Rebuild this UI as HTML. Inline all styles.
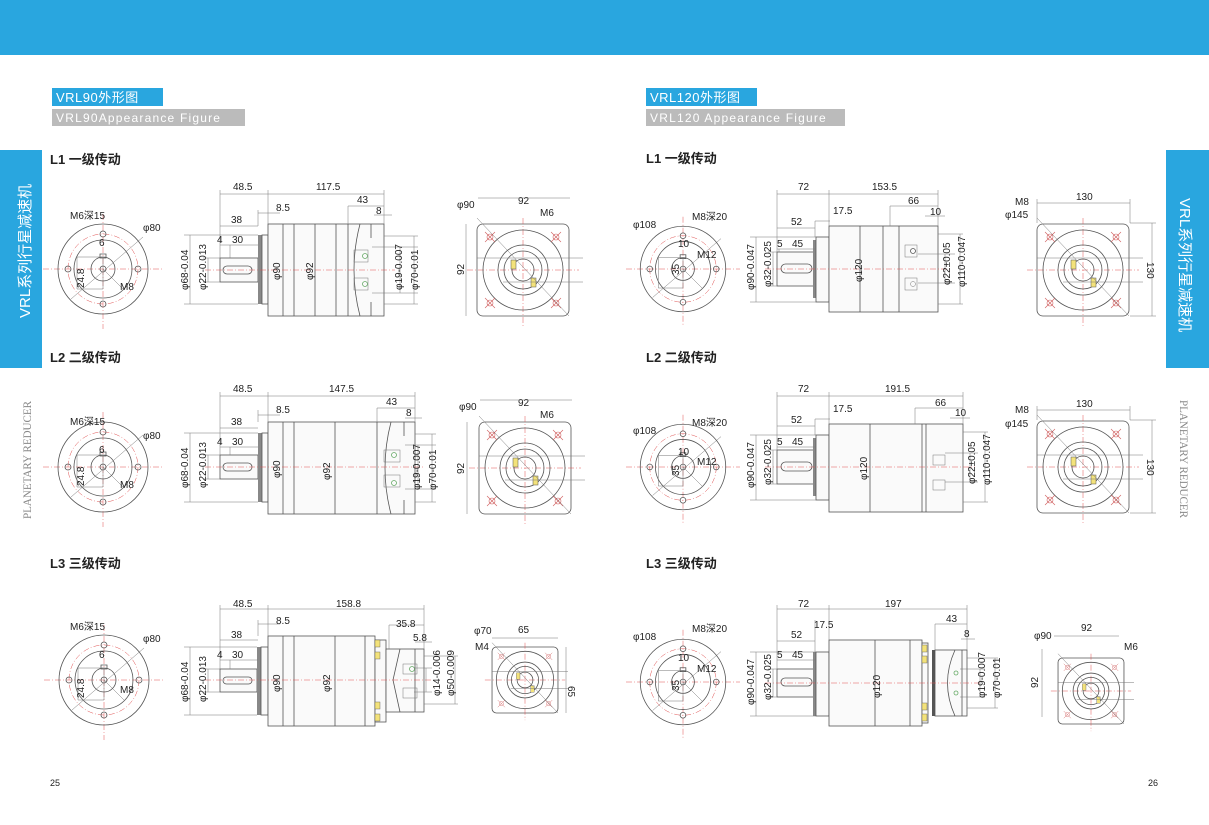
<!DOCTYPE html>
<html><head><meta charset="utf-8"><style>
html,body{margin:0;padding:0;background:#fff}
svg{display:block}
.t{font-family:"Liberation Sans Narrow","Liberation Sans",sans-serif;font-size:10px;fill:#222}
.h{font-family:"Liberation Sans","Noto Sans CJK SC",sans-serif;font-size:13px;fill:#222;font-weight:bold}
.l{fill:none;stroke:#555;stroke-width:0.8}
.d{fill:none;stroke:#777;stroke-width:0.5}
.r{fill:none;stroke:#e05050;stroke-width:0.5;stroke-dasharray:6 2 1 2}
.b{fill:#fafafa;stroke:#555;stroke-width:0.8}
</style></head><body>
<svg width="1209" height="825" viewBox="0 0 1209 825" xmlns="http://www.w3.org/2000/svg">
<defs>
<symbol id="fv" viewBox="-60 -60 120 120" overflow="visible">
 <line class="r" x1="-60" y1="0" x2="60" y2="0" vector-effect="non-scaling-stroke"/>
 <line class="r" x1="0" y1="-55" x2="0" y2="60" vector-effect="non-scaling-stroke"/>
 <circle class="l" r="45" vector-effect="non-scaling-stroke"/>
 <circle class="r" r="35" vector-effect="non-scaling-stroke"/>
 <circle class="l" r="29" vector-effect="non-scaling-stroke"/>
 <circle class="l" r="12" vector-effect="non-scaling-stroke"/>
 <circle class="l" r="3" vector-effect="non-scaling-stroke"/>
 <rect class="l" x="-3" y="-15" width="6" height="4" vector-effect="non-scaling-stroke"/>
 <rect class="d" x="-26" y="-12" width="26" height="32" vector-effect="non-scaling-stroke"/>
 <circle class="l" cx="0" cy="-35" r="3" vector-effect="non-scaling-stroke"/>
 <circle class="l" cx="0" cy="35" r="3" vector-effect="non-scaling-stroke"/>
 <circle class="l" cx="-35" cy="0" r="3" vector-effect="non-scaling-stroke"/>
 <circle class="l" cx="35" cy="0" r="3" vector-effect="non-scaling-stroke"/>
 <line class="d" x1="-32" y1="30" x2="40" y2="-32" vector-effect="non-scaling-stroke"/>
 <line class="d" x1="0" y1="0" x2="20" y2="20" vector-effect="non-scaling-stroke"/>
</symbol>
<symbol id="ev" viewBox="-60 -60 120 120" overflow="visible">
 <rect class="l" x="-46" y="-46" width="92" height="92" rx="6" vector-effect="non-scaling-stroke"/>
 <line class="r" x1="-56" y1="0" x2="56" y2="0" vector-effect="non-scaling-stroke"/>
 <line class="r" x1="0" y1="-52" x2="0" y2="56" vector-effect="non-scaling-stroke"/>
 <circle class="l" r="40" vector-effect="non-scaling-stroke"/>
 <circle class="l" r="25" vector-effect="non-scaling-stroke"/>
 <circle class="l" r="19" vector-effect="non-scaling-stroke"/>
 <circle class="l" r="11" vector-effect="non-scaling-stroke"/>
 <rect x="-12" y="-10" width="5" height="9" fill="#f3e27a" stroke="#555" stroke-width="0.5"/>
 <rect x="8" y="8" width="5" height="9" fill="#f3e27a" stroke="#555" stroke-width="0.5"/>
 <g stroke="#d06060" stroke-width="0.6" fill="none">
  <circle cx="-33" cy="-33" r="3"/><circle cx="33" cy="-33" r="3"/><circle cx="-33" cy="33" r="3"/><circle cx="33" cy="33" r="3"/>
  <path d="M-38-38l10 10M-28-38l-10 10M28-38l10 10M38-38l-10 10M-38 28l10 10M-28 28l-10 10M28 28l10 10M38 28l-10 10"/>
 </g>
 <line class="d" x1="-46" y1="-52" x2="46" y2="46" vector-effect="non-scaling-stroke"/>
 <line class="d" x1="-46" y1="-12" x2="60" y2="-12" vector-effect="non-scaling-stroke"/>
 <line class="d" x1="-20" y1="12" x2="60" y2="12" vector-effect="non-scaling-stroke"/>
</symbol>
</defs>

<rect x="0" y="0" width="1209" height="55" fill="#29a6df"/>
<rect x="0" y="150" width="42" height="218" fill="#29a6df"/>
<text transform="translate(30,318) rotate(-90)" font-family="Liberation Sans,Noto Sans CJK SC,sans-serif" font-size="15" fill="#fff">VRL系列行星减速机</text>
<rect x="1166" y="150" width="43" height="218" fill="#29a6df"/>
<text transform="translate(1180,198) rotate(90)" font-family="Liberation Sans,Noto Sans CJK SC,sans-serif" font-size="15" fill="#fff">VRL系列行星减速机</text>
<text transform="translate(31,519) rotate(-90)" font-family="Liberation Serif,serif" font-size="12" fill="#888" textLength="118" lengthAdjust="spacingAndGlyphs">PLANETARY  REDUCER</text>
<text transform="translate(1180,400) rotate(90)" font-family="Liberation Serif,serif" font-size="12" fill="#888" textLength="118" lengthAdjust="spacingAndGlyphs">PLANETARY  REDUCER</text>

<rect x="52" y="88" width="111" height="18" fill="#29a6df"/>
<text x="56" y="102" font-family="Liberation Sans,Noto Sans CJK SC,sans-serif" font-size="13" fill="#fff" letter-spacing="0.5">VRL90外形图</text>
<rect x="52" y="109" width="193" height="17" fill="#bbb"/>
<text x="56" y="122" font-family="Liberation Sans,sans-serif" font-size="12" fill="#fff" letter-spacing="1.2">VRL90Appearance Figure</text>
<rect x="646" y="88" width="111" height="18" fill="#29a6df"/>
<text x="650" y="102" font-family="Liberation Sans,Noto Sans CJK SC,sans-serif" font-size="13" fill="#fff" letter-spacing="0.5">VRL120外形图</text>
<rect x="646" y="109" width="199" height="17" fill="#bbb"/>
<text x="650" y="122" font-family="Liberation Sans,sans-serif" font-size="12" fill="#fff" letter-spacing="1.2">VRL120 Appearance Figure</text>

<text class="h" x="50" y="164">L1 一级传动</text>
<text class="h" x="50" y="362">L2 二级传动</text>
<text class="h" x="50" y="568">L3 三级传动</text>
<text class="h" x="646" y="163">L1 一级传动</text>
<text class="h" x="646" y="362">L2 二级传动</text>
<text class="h" x="646" y="568">L3 三级传动</text>
<text x="50" y="786" font-family="Liberation Sans,sans-serif" font-size="9" fill="#222">25</text>
<text x="1148" y="786" font-family="Liberation Sans,sans-serif" font-size="9" fill="#222">26</text>

<use href="#fv" x="43" y="209" width="120" height="120"/>
<use href="#fv" x="43" y="407" width="120" height="120"/>
<use href="#fv" x="44" y="620" width="120" height="120"/>
<use href="#fv" x="626" y="212" width="114" height="114"/>
<use href="#fv" x="626" y="410" width="114" height="114"/>
<use href="#fv" x="626" y="625" width="114" height="114"/>

<g class="t">
<text x="70" y="219">M6深15</text><text x="143" y="231">φ80</text><text x="99" y="246">6</text><text x="120" y="290">M8</text>
<text transform="translate(84,288) rotate(-90)">24.8</text>
<text x="70" y="425">M6深15</text><text x="143" y="439">φ80</text><text x="99" y="453">6</text><text x="120" y="488">M8</text>
<text transform="translate(84,486) rotate(-90)">24.8</text>
<text x="70" y="630">M6深15</text><text x="143" y="642">φ80</text><text x="99" y="658">6</text><text x="120" y="693">M8</text>
<text transform="translate(84,698) rotate(-90)">24.8</text>
<text x="633" y="228">φ108</text><text x="692" y="220">M8深20</text><text x="678" y="247">10</text><text x="697" y="258">M12</text>
<text transform="translate(679,275) rotate(-90)">35</text>
<text x="633" y="434">φ108</text><text x="692" y="426">M8深20</text><text x="678" y="455">10</text><text x="697" y="465">M12</text>
<text transform="translate(679,476) rotate(-90)">35</text>
<text x="633" y="640">φ108</text><text x="692" y="632">M8深20</text><text x="678" y="661">10</text><text x="697" y="672">M12</text>
<text transform="translate(679,691) rotate(-90)">35</text>
</g>

<use href="#ev" x="463" y="210" width="120" height="120"/>
<use href="#ev" x="465" y="408" width="120" height="120"/>
<use href="#ev" x="482" y="637" width="86" height="86"/>
<use href="#ev" x="1023" y="210" width="120" height="120"/>
<use href="#ev" x="1023" y="407" width="120" height="120"/>
<use href="#ev" x="1048" y="648" width="86" height="86"/>
<g class="t">
<text x="457" y="208">φ90</text><text x="518" y="204">92</text><text x="540" y="216">M6</text>
<text transform="translate(464,275) rotate(-90)">92</text>
<line class="d" x1="478" y1="198" x2="570" y2="198"/><line class="d" x1="466" y1="224" x2="466" y2="316"/>
<text x="459" y="410">φ90</text><text x="518" y="406">92</text><text x="540" y="418">M6</text>
<text transform="translate(464,474) rotate(-90)">92</text>
<line class="d" x1="480" y1="400" x2="572" y2="400"/><line class="d" x1="467" y1="422" x2="467" y2="514"/>
<text x="474" y="634">φ70</text><text x="518" y="633">65</text><text x="475" y="650">M4</text>
<text transform="translate(568,686) rotate(90)">65</text>
<line class="d" x1="492" y1="638" x2="558" y2="638"/><line class="d" x1="566" y1="647" x2="566" y2="713"/>
<text x="1015" y="205">M8</text><text x="1005" y="218">φ145</text><text x="1076" y="200">130</text>
<text transform="translate(1147,262) rotate(90)">130</text>
<line class="d" x1="1037" y1="203" x2="1130" y2="203"/><line class="d" x1="1037" y1="199" x2="1037" y2="223"/><line class="d" x1="1130" y1="199" x2="1130" y2="223"/>
<line class="d" x1="1152" y1="223" x2="1152" y2="316"/><line class="d" x1="1130" y1="223" x2="1156" y2="223"/><line class="d" x1="1130" y1="316" x2="1156" y2="316"/>
<text x="1015" y="413">M8</text><text x="1005" y="427">φ145</text><text x="1076" y="407">130</text>
<text transform="translate(1147,459) rotate(90)">130</text>
<line class="d" x1="1037" y1="410" x2="1130" y2="410"/><line class="d" x1="1037" y1="406" x2="1037" y2="420"/><line class="d" x1="1130" y1="406" x2="1130" y2="420"/>
<line class="d" x1="1152" y1="420" x2="1152" y2="513"/><line class="d" x1="1130" y1="420" x2="1156" y2="420"/><line class="d" x1="1130" y1="513" x2="1156" y2="513"/>
<text x="1034" y="639">φ90</text><text x="1081" y="631">92</text><text x="1124" y="650">M6</text>
<text transform="translate(1038,688) rotate(-90)">92</text>
<line class="d" x1="1054" y1="636" x2="1119" y2="636"/><line class="d" x1="1042" y1="649" x2="1042" y2="717"/>
</g>

<g>
<rect class="b" x="220" y="258" width="38" height="24"/>
<rect class="l" x="223" y="266" width="29" height="8" rx="4"/>
<rect x="258" y="235" width="4" height="69" fill="#888"/>
<rect class="b" x="262" y="235" width="6" height="69"/>
<rect class="b" x="268" y="224" width="116" height="92"/>
<line class="l" x1="283" y1="224" x2="283" y2="316"/><line class="l" x1="294" y1="224" x2="294" y2="316"/>
<line class="l" x1="315" y1="224" x2="315" y2="316"/><line class="l" x1="336" y1="224" x2="336" y2="316"/><line class="l" x1="348" y1="224" x2="348" y2="316"/>
<path class="l" d="M360 224Q348 270 360 316M371 224L371 238M371 302L371 316"/>
<rect class="d" x="354" y="250" width="14" height="12"/><rect class="d" x="354" y="278" width="14" height="12"/>
<circle cx="365" cy="256" r="2.5" fill="none" stroke="#6a6" stroke-width="0.8"/><circle cx="365" cy="284" r="2.5" fill="none" stroke="#6a6" stroke-width="0.8"/>
<line class="r" x1="205" y1="270" x2="395" y2="270"/>
<path class="d" d="M220 194H384M220 190V258M268 190V224M384 190V224M348 206H384M348 206V224M374 215H392M258 213H280M258 226V210M220 226H258M220 245H258M230 245V258M190 235V304M184 235H258M184 304H258M208 258V282M203 258H220M203 282H220M372 247H418M372 293H418M400 247V293M414 236V304M384 236H418M384 304H418"/>
<g class="t"><text x="233" y="190">48.5</text><text x="316" y="190">117.5</text><text x="357" y="203">43</text><text x="376" y="214">8</text><text x="276" y="211">8.5</text><text x="231" y="223">38</text><text x="217" y="243">4</text><text x="232" y="243">30</text>
<text transform="translate(188,290) rotate(-90)">φ68-0.04</text><text transform="translate(206,290) rotate(-90)">φ22-0.013</text>
<text transform="translate(280,280) rotate(-90)">φ90</text><text transform="translate(313,280) rotate(-90)">φ92</text>
<text transform="translate(402,290) rotate(-90)">φ19-0.007</text><text transform="translate(418,290) rotate(-90)">φ70-0.01</text></g>
</g>

<g>
<rect class="b" x="220" y="455" width="38" height="24"/>
<rect class="l" x="223" y="463" width="29" height="8" rx="4"/>
<rect x="258" y="433" width="4" height="69" fill="#888"/>
<rect class="b" x="262" y="433" width="6" height="69"/>
<rect class="b" x="268" y="422" width="147" height="92"/>
<line class="l" x1="283" y1="422" x2="283" y2="514"/><line class="l" x1="294" y1="422" x2="294" y2="514"/>
<line class="l" x1="335" y1="422" x2="335" y2="514"/><line class="l" x1="377" y1="422" x2="377" y2="514"/>
<path class="l" d="M391 422Q379 468 391 514M404 422V436M404 500V514"/>
<rect class="d" x="384" y="450" width="16" height="12"/><rect class="d" x="384" y="475" width="16" height="12"/>
<circle cx="394" cy="455" r="2.5" fill="none" stroke="#6a6" stroke-width="0.8"/><circle cx="394" cy="483" r="2.5" fill="none" stroke="#6a6" stroke-width="0.8"/>
<line class="r" x1="205" y1="467" x2="425" y2="467"/>
<path class="d" d="M220 396H415M220 392V455M268 392V422M415 392V422M377 408H415M377 408V422M405 418H422M258 415H280M258 422V410M220 428H258M220 447H258M230 447V455M190 433V502M184 433H258M184 502H258M208 455V479M203 455H220M203 479H220M405 445H436M405 489H436M418 445V489M432 434V502M415 434H436M415 502H436"/>
<g class="t"><text x="233" y="392">48.5</text><text x="329" y="392">147.5</text><text x="386" y="405">43</text><text x="406" y="416">8</text><text x="276" y="413">8.5</text><text x="231" y="425">38</text><text x="217" y="445">4</text><text x="232" y="445">30</text>
<text transform="translate(188,488) rotate(-90)">φ68-0.04</text><text transform="translate(206,488) rotate(-90)">φ22-0.013</text>
<text transform="translate(280,478) rotate(-90)">φ90</text><text transform="translate(330,480) rotate(-90)">φ92</text>
<text transform="translate(420,490) rotate(-90)">φ19-0.007</text><text transform="translate(436,490) rotate(-90)">φ70-0.01</text></g>
</g>

<g>
<rect class="b" x="220" y="669" width="37" height="23"/>
<rect class="l" x="223" y="677" width="29" height="7" rx="3.5"/>
<rect x="257" y="647" width="4" height="68" fill="#888"/>
<rect class="b" x="261" y="647" width="7" height="68"/>
<rect class="b" x="268" y="636" width="107" height="90"/>
<line class="l" x1="283" y1="636" x2="283" y2="726"/><line class="l" x1="294" y1="636" x2="294" y2="726"/><line class="l" x1="335" y1="636" x2="335" y2="726"/><line class="l" x1="365" y1="636" x2="365" y2="726"/>
<rect class="b" x="375" y="640" width="11" height="82"/>
<rect x="375" y="640" width="5" height="7" fill="#f3e27a" stroke="#555" stroke-width="0.4"/><rect x="375" y="652" width="5" height="7" fill="#f3e27a" stroke="#555" stroke-width="0.4"/>
<rect x="375" y="702" width="5" height="7" fill="#f3e27a" stroke="#555" stroke-width="0.4"/><rect x="375" y="714" width="5" height="7" fill="#f3e27a" stroke="#555" stroke-width="0.4"/>
<rect class="b" x="386" y="649" width="38" height="63"/>
<path class="l" d="M400 649L393 680L400 712M415 649V712"/>
<rect class="d" x="403" y="664" width="14" height="10"/><rect class="d" x="403" y="688" width="14" height="10"/>
<circle cx="412" cy="669" r="2.5" fill="none" stroke="#6a6" stroke-width="0.8"/>
<line class="r" x1="205" y1="680" x2="432" y2="680"/>
<path class="d" d="M220 609H424M220 605V669M268 605V636M424 605V649M389 625H424M389 625V649M415 642H432M258 624H280M258 636V620M220 640H258M220 660H258M230 660V669M190 647V715M184 647H257M184 715H257M208 669V692M203 669H220M203 692H220M414 668H432M414 692H432M426 668V692M455 656V704M424 656H458M424 704H458"/>
<g class="t"><text x="233" y="607">48.5</text><text x="336" y="607">158.8</text><text x="396" y="627">35.8</text><text x="413" y="641">5.8</text><text x="276" y="624">8.5</text><text x="231" y="638">38</text><text x="217" y="658">4</text><text x="232" y="658">30</text>
<text transform="translate(188,702) rotate(-90)">φ68-0.04</text><text transform="translate(206,702) rotate(-90)">φ22-0.013</text>
<text transform="translate(280,692) rotate(-90)">φ90</text><text transform="translate(330,692) rotate(-90)">φ92</text>
<text transform="translate(440,696) rotate(-90)">φ14-0.006</text><text transform="translate(454,696) rotate(-90)">φ50-0.009</text></g>
</g>

<g>
<rect class="b" x="777" y="252" width="38" height="34"/>
<rect class="l" x="781" y="264" width="31" height="9" rx="4.5"/>
<rect x="813" y="240" width="3" height="58" fill="#888"/>
<rect class="b" x="816" y="237" width="13" height="65"/>
<rect class="b" x="829" y="226" width="109" height="86"/>
<line class="l" x1="860" y1="226" x2="860" y2="312"/><line class="l" x1="883" y1="226" x2="883" y2="312"/><line class="l" x1="899" y1="226" x2="899" y2="312"/>
<rect class="d" x="905" y="245" width="12" height="12"/><rect class="d" x="905" y="278" width="12" height="12"/>
<circle cx="913" cy="251" r="2.5" class="l"/><circle cx="913" cy="284" r="2.5" class="d"/>
<line class="r" x1="765" y1="269" x2="950" y2="269"/>
<path class="d" d="M777 194H938M777 190V252M829 190V226M938 190V226M890 206H938M890 206V226M925 216H945M815 221H830M815 221V237M777 228H815M777 249H815M779 249V252M756 237V302M750 237H816M750 302H816M773 252V286M768 252H777M768 286H777M918 254H955M918 283H955M945 254V283M960 234V304M938 234H963M938 304H963"/>
<g class="t"><text x="798" y="190">72</text><text x="872" y="190">153.5</text><text x="908" y="204">66</text><text x="930" y="215">10</text><text x="833" y="214">17.5</text><text x="791" y="225">52</text><text x="777" y="247">5</text><text x="792" y="247">45</text>
<text transform="translate(754,290) rotate(-90)">φ90-0.047</text><text transform="translate(771,287) rotate(-90)">φ32-0.025</text>
<text transform="translate(862,282) rotate(-90)">φ120</text>
<text transform="translate(950,285) rotate(-90)">φ22±0.05</text><text transform="translate(965,287) rotate(-90)">φ110-0.047</text></g>
</g>

<g>
<rect class="b" x="777" y="450" width="38" height="34"/>
<rect class="l" x="781" y="462" width="31" height="9" rx="4.5"/>
<rect x="813" y="438" width="3" height="58" fill="#888"/>
<rect class="b" x="816" y="435" width="13" height="65"/>
<rect class="b" x="829" y="424" width="134" height="88"/>
<line class="l" x1="870" y1="424" x2="870" y2="512"/><line class="l" x1="922" y1="424" x2="922" y2="512"/><line class="l" x1="926" y1="424" x2="926" y2="512"/>
<rect class="d" x="933" y="455" width="12" height="10"/><rect class="d" x="933" y="480" width="12" height="10"/>
<line class="r" x1="765" y1="467" x2="975" y2="467"/>
<path class="d" d="M777 396H963M777 392V450M829 392V424M963 392V424M915 408H963M915 408V424M950 418H970M815 419H830M815 419V435M777 426H815M777 447H815M756 435V500M750 435H816M750 500H816M773 450V484M768 450H777M768 484H777M945 453H978M945 482H978M970 453V482M985 432V502M963 432H988M963 502H988"/>
<g class="t"><text x="798" y="392">72</text><text x="885" y="392">191.5</text><text x="935" y="406">66</text><text x="955" y="416">10</text><text x="833" y="412">17.5</text><text x="791" y="423">52</text><text x="777" y="445">5</text><text x="792" y="445">45</text>
<text transform="translate(754,488) rotate(-90)">φ90-0.047</text><text transform="translate(771,485) rotate(-90)">φ32-0.025</text>
<text transform="translate(867,480) rotate(-90)">φ120</text>
<text transform="translate(975,484) rotate(-90)">φ22±0.05</text><text transform="translate(990,485) rotate(-90)">φ110-0.047</text></g>
</g>

<g>
<rect class="b" x="777" y="669" width="38" height="28"/>
<rect class="l" x="781" y="678" width="31" height="8" rx="4"/>
<rect x="813" y="652" width="3" height="64" fill="#888"/>
<rect class="b" x="816" y="652" width="13" height="64"/>
<rect class="b" x="829" y="640" width="93" height="86"/>
<line class="l" x1="875" y1="640" x2="875" y2="726"/><line class="l" x1="910" y1="640" x2="910" y2="726"/>
<rect class="b" x="922" y="643" width="6" height="80"/>
<rect x="922" y="645" width="5" height="7" fill="#f3e27a" stroke="#555" stroke-width="0.4"/><rect x="922" y="656" width="5" height="7" fill="#f3e27a" stroke="#555" stroke-width="0.4"/>
<rect x="922" y="703" width="5" height="7" fill="#f3e27a" stroke="#555" stroke-width="0.4"/><rect x="922" y="714" width="5" height="7" fill="#f3e27a" stroke="#555" stroke-width="0.4"/>
<rect x="932" y="650" width="3" height="66" fill="#555"/>
<rect class="b" x="935" y="650" width="32" height="66"/>
<path class="l" d="M955 650Q940 683 955 716M962 650V716"/>
<circle cx="956" cy="673" r="2" fill="none" stroke="#6a6" stroke-width="0.8"/><circle cx="956" cy="693" r="2" fill="none" stroke="#6a6" stroke-width="0.8"/>
<line class="r" x1="765" y1="683" x2="980" y2="683"/>
<path class="d" d="M777 609H967M777 605V669M829 605V640M967 605V650M935 624H967M935 624V650M961 639H975M815 620V652M777 641H815M777 660H815M756 652V716M750 652H816M750 716H816M773 669V697M768 669H777M768 697H777M960 669H985M960 697H985M980 669V697M995 658V708M967 658H998M967 708H998"/>
<g class="t"><text x="798" y="607">72</text><text x="885" y="607">197</text><text x="814" y="628">17.5</text><text x="946" y="622">43</text><text x="964" y="637">8</text><text x="791" y="638">52</text><text x="777" y="658">5</text><text x="792" y="658">45</text>
<text transform="translate(754,705) rotate(-90)">φ90-0.047</text><text transform="translate(771,700) rotate(-90)">φ32-0.025</text>
<text transform="translate(880,698) rotate(-90)">φ120</text>
<text transform="translate(985,698) rotate(-90)">φ19-0.007</text><text transform="translate(1000,698) rotate(-90)">φ70-0.01</text></g>
</g>
</svg>
</body></html>
